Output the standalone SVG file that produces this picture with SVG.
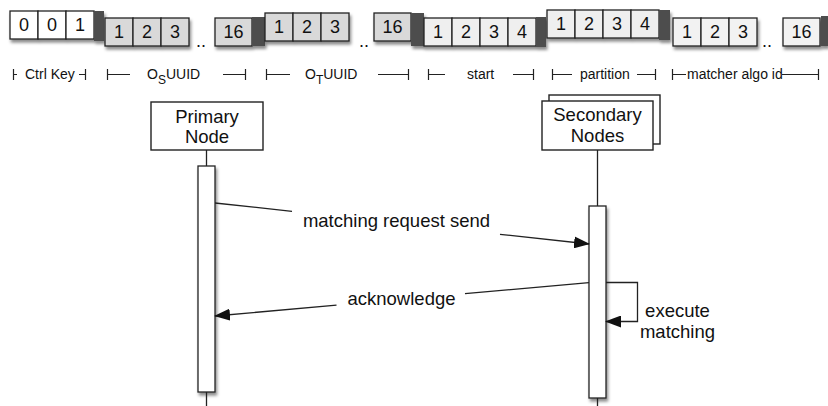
<svg xmlns="http://www.w3.org/2000/svg" width="828" height="406" viewBox="0 0 828 406">
<defs>
<filter id="sh" x="-20%" y="-20%" width="150%" height="160%">
<feDropShadow dx="1.5" dy="3" stdDeviation="1.8" flood-color="#000" flood-opacity="0.45"/>
</filter>
<marker id="ah" viewBox="0 0 16 12" refX="15" refY="6" markerWidth="16" markerHeight="12" markerUnits="userSpaceOnUse" orient="auto">
<path d="M0,0 L16,6 L0,12 Z" fill="#111"/>
</marker>
</defs>
<style>
text{font-family:"Liberation Sans",Arial,Helvetica,sans-serif;fill:#111}
.c{stroke:#222;stroke-width:1.3}
.w{fill:#fff}
.g{fill:#d9d9d9}
.l{fill:#efefef}
.dk{fill:#4d4d4d}
.d{font-size:18px;text-anchor:middle}
.k{font-size:14px}
.b{stroke:#222;stroke-width:1.2;fill:none}
.n{font-size:18.5px;text-anchor:middle}
.ln{stroke:#222;stroke-width:1.3;fill:none}
</style>

<g id="key">
<g id="ctrl" filter="url(#sh)">
<rect class="c w" x="10" y="11" width="28" height="28"/>
<rect class="c w" x="38" y="11" width="28" height="28"/>
<rect class="c w" x="66" y="11" width="28" height="28"/>
<rect class="dk" x="94" y="11" width="10" height="30"/>
</g>
<g class="d"><text class="d" x="24" y="31">0</text><text class="d" x="52" y="31">0</text><text class="d" x="80" y="31">1</text></g>

<g id="os-uuid" filter="url(#sh)">
<rect class="c g" x="105" y="18" width="28" height="28"/>
<rect class="c g" x="133" y="18" width="28" height="28"/>
<rect class="c g" x="161" y="18" width="28" height="28"/>
<rect class="c g" x="215" y="18" width="37" height="28"/>
<rect class="dk" x="252" y="17" width="13" height="29"/>
</g>
<text class="d" x="119" y="38">1</text><text class="d" x="147" y="38">2</text><text class="d" x="175" y="38">3</text>
<text class="d" x="201" y="47">..</text>
<text class="d" x="233.5" y="38">16</text>

<g id="ot-uuid" filter="url(#sh)">
<rect class="c g" x="265" y="13" width="28" height="28"/>
<rect class="c g" x="293" y="13" width="28" height="28"/>
<rect class="c g" x="321" y="13" width="28" height="28"/>
<rect class="c g" x="374" y="13" width="37" height="28"/>
<rect class="dk" x="411" y="13" width="13" height="33"/>
</g>
<text class="d" x="279" y="33">1</text><text class="d" x="307" y="33">2</text><text class="d" x="335" y="33">3</text>
<text class="d" x="364" y="47">..</text>
<text class="d" x="392.5" y="33">16</text>

<g id="start" filter="url(#sh)">
<rect class="c l" x="424" y="18" width="28" height="28"/>
<rect class="c l" x="452" y="18" width="28" height="28"/>
<rect class="c l" x="480" y="18" width="28" height="28"/>
<rect class="c l" x="508" y="18" width="28" height="28"/>
<rect class="dk" x="536" y="17" width="10" height="30"/>
</g>
<text class="d" x="438" y="38">1</text><text class="d" x="466" y="38">2</text><text class="d" x="494" y="38">3</text><text class="d" x="522" y="38">4</text>

<g id="partition" filter="url(#sh)">
<rect class="c l" x="547" y="10" width="28" height="28"/>
<rect class="c l" x="575" y="10" width="28" height="28"/>
<rect class="c l" x="603" y="10" width="28" height="28"/>
<rect class="c l" x="631" y="10" width="28" height="28"/>
<rect class="dk" x="659" y="10" width="11" height="30"/>
</g>
<text class="d" x="561" y="30">1</text><text class="d" x="589" y="30">2</text><text class="d" x="617" y="30">3</text><text class="d" x="645" y="30">4</text>

<g id="matcher" filter="url(#sh)">
<rect class="c l" x="673" y="18" width="28" height="28" style="fill:#f2f2f2"/>
<rect class="c l" x="701" y="18" width="28" height="28" style="fill:#f2f2f2"/>
<rect class="c l" x="729" y="18" width="28" height="28" style="fill:#f2f2f2"/>
<rect class="c l" x="783" y="18" width="37" height="28" style="fill:#f2f2f2"/>
<rect class="dk" x="821" y="16" width="7" height="30"/>
</g>
<text class="d" x="687" y="38">1</text><text class="d" x="715" y="38">2</text><text class="d" x="743" y="38">3</text>
<text class="d" x="767" y="47">..</text>
<text class="d" x="801.5" y="38">16</text>
</g>

<g id="key-labels">
<path class="b" d="M13.5,69 V80 M13.5,74.5 H17"/>
<text class="k" x="25" y="79">Ctrl Key</text>
<path class="b" d="M79,74.5 H85.5 M85.5,69 V80"/>

<path class="b" d="M107.5,69 V80 M107.5,74.5 H130"/>
<text class="k" x="147" y="79">O<tspan font-size="12" dy="5">S</tspan><tspan dy="-5">UUID</tspan></text>
<path class="b" d="M223,74.5 H245.5 M245.5,69 V80"/>

<path class="b" d="M266.5,69 V80 M266.5,74.5 H290"/>
<text class="k" x="305" y="79">O<tspan font-size="12" dy="5">T</tspan><tspan dy="-5">UUID</tspan></text>
<path class="b" d="M378,74.5 H408.5 M408.5,69 V80"/>

<path class="b" d="M428.5,69 V80 M428.5,74.5 H445"/>
<text class="k" x="467" y="79">start</text>
<path class="b" d="M513,74.5 H533.5 M533.5,69 V80"/>

<path class="b" d="M552.5,69 V80 M552.5,74.5 H572"/>
<text class="k" x="580" y="79">partition</text>
<path class="b" d="M637,74.5 H655.5 M655.5,69 V80"/>

<path class="b" d="M672.5,69 V80 M672.5,74.5 H686"/>
<text class="k" x="687" y="79">matcher algo id</text>
<path class="b" d="M782,74.5 H818.5 M818.5,69 V80"/>
</g>

<g id="primary-node">
<rect x="151" y="102" width="112" height="48" fill="#fff" stroke="#222" stroke-width="1.4"/>
<text class="n" x="207" y="123">Primary</text>
<text class="n" x="207" y="143">Node</text>
<line class="ln" x1="206.5" y1="150" x2="206.5" y2="166"/>
<rect x="198" y="166" width="17" height="226" fill="#fff" stroke="#222" stroke-width="1.3" filter="url(#sh)"/>
<line class="ln" x1="206.5" y1="392" x2="206.5" y2="406"/>
</g>

<g id="secondary-nodes">
<rect x="549" y="95" width="111" height="49" fill="#fff" stroke="#222" stroke-width="1.4"/>
<rect x="542" y="101" width="111" height="49" fill="#fff" stroke="#222" stroke-width="1.4"/>
<text class="n" x="597.5" y="121">Secondary</text>
<text class="n" x="597.5" y="142">Nodes</text>
<line class="ln" x1="597.5" y1="150" x2="597.5" y2="206"/>
<rect x="589" y="206" width="17" height="192" fill="#fff" stroke="#222" stroke-width="1.3" filter="url(#sh)"/>
<line class="ln" x1="597.5" y1="398" x2="597.5" y2="406"/>
</g>

<g id="connectors">
<path class="ln" d="M215,203 L292,211.3"/>
<path class="ln" d="M500,234.3 L589,244" marker-end="url(#ah)"/>
<text class="n" x="396.5" y="227">matching request send</text>

<path class="ln" d="M589,282.7 L465,293.7"/>
<path class="ln" d="M336.5,305.1 L215,316" marker-end="url(#ah)"/>
<text class="n" x="401.5" y="305">acknowledge</text>

<path class="ln" d="M606,282.5 H637.5 V321.5 H606" marker-end="url(#ah)"/>
<text class="n" x="677.5" y="317">execute</text>
<text class="n" x="677.5" y="338">matching</text>
</g>
</svg>
